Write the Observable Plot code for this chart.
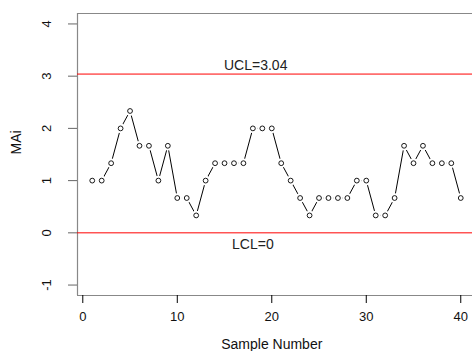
<!DOCTYPE html>
<html>
<head>
<meta charset="utf-8">
<script src="https://cdn.jsdelivr.net/npm/d3@7"></script>
<script src="https://cdn.jsdelivr.net/npm/@observablehq/plot@0.6"></script>
<style>
  html, body { margin: 0; padding: 0; background: white; overflow: hidden; }
  svg { font-family: "Liberation Sans", Arial, sans-serif; }
</style>
</head>
<body>
<div id="chart"></div>
<script>
const sampleNumbers = d3.range(1, 41);
const maValues = [
  1, 1, 4/3, 2, 7/3, 5/3, 5/3, 1, 5/3, 2/3,
  2/3, 1/3, 1, 4/3, 4/3, 4/3, 4/3, 2, 2, 2,
  4/3, 1, 2/3, 1/3, 2/3, 2/3, 2/3, 2/3, 1, 1,
  1/3, 1/3, 2/3, 5/3, 4/3, 5/3, 4/3, 4/3, 4/3, 2/3
];
const xTicks = [0, 10, 20, 30, 40];
const yTicks = [-1, 0, 1, 2, 3, 4];
const UCL = 3.04;
const LCL = 0;
const uclLabel = [{x: 18.3, y: UCL, text: "UCL=3.04"}];
const lclLabel = [{x: 18.0, y: LCL, text: "LCL=0"}];

const data = sampleNumbers.map((s, i) => ({s, v: maValues[i]}));
const xDom = [-0.56, 41.56];
const yDom = [-1.2, 4.2];

const chart = Plot.plot({
  width: 472,
  height: 351,
  marginLeft: 77,
  marginTop: 13,
  marginBottom: 56,
  marginRight: 0,
  style: {fontFamily: "'Liberation Sans', Arial, sans-serif", background: "white"},
  x: {domain: xDom, range: [77, 475]},
  y: {domain: yDom},
  marks: [
    // frame
    Plot.ruleY([yDom[0], yDom[1]], {x1: xDom[0], x2: xDom[1], stroke: "#888", strokeWidth: 1.2}),
    Plot.ruleX([xDom[0], xDom[1]], {y1: yDom[0], y2: yDom[1], stroke: "#888", strokeWidth: 1.2}),
    // control limits
    Plot.ruleY([UCL, LCL], {x1: xDom[0], x2: xDom[1], stroke: "red", strokeWidth: 1}),
    Plot.text(uclLabel, {x: "x", y: "y", text: "text", dy: -9, fontSize: 14, fill: "#222"}),
    Plot.text(lclLabel, {x: "x", y: "y", text: "text", dy: 12, fontSize: 14, fill: "#222"}),
    // line with gaps
    Plot.line(data, {x: "s", y: "v", stroke: "black", strokeWidth: 1}),
    Plot.dot(data, {x: "s", y: "v", r: 4.8, fill: "white", stroke: "none"}),
    Plot.dot(data, {x: "s", y: "v", r: 2.4, fill: "white", stroke: "black", strokeWidth: 0.9}),
    // axes
    Plot.axisX(xTicks, {tickSize: 8, tickPadding: 8, fontSize: 13, stroke: "black", fill: "#111", label: null, tickFormat: d => String(d)}),
    Plot.axisY(yTicks, {tickSize: 9, tickPadding: 18, fontSize: 13, tickRotate: -90, stroke: "#666", fill: "#111", label: null, textAnchor: "middle", tickFormat: d => String(d)}),
    Plot.text(["Sample Number"], {frameAnchor: "bottom", dy: 53.5, x: 20, fontSize: 14, fill: "#111"}),
    Plot.text(["MAi"], {frameAnchor: "left", dx: -61, rotate: -90, fontSize: 14, fill: "#111"})
  ]
});
document.getElementById("chart").appendChild(chart);
</script>
</body>
</html>
